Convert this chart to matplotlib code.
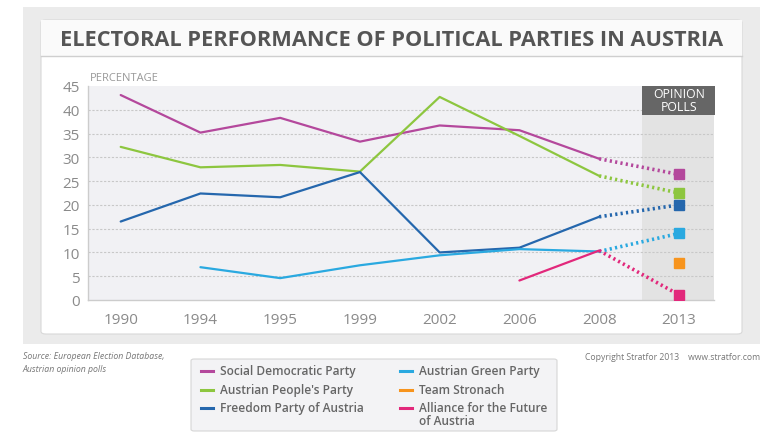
import numpy as np
import matplotlib
matplotlib.use('Agg')
import matplotlib.pyplot as plt
from matplotlib.patches import FancyBboxPatch, Rectangle
from matplotlib.lines import Line2D

plt.rcParams['font.family'] = ['Open Sans', 'DejaVu Sans']

# Data
years = ['1990', '1994', '1995', '1999', '2002', '2006', '2008', '2013']
nan = np.nan
spo = [43.1, 35.2, 38.3, 33.3, 36.7, 35.7, 29.7, 26.4]
ovp = [32.2, 27.9, 28.4, 27.0, 42.7, 34.5, 26.1, 22.5]
fpo = [16.5, 22.4, 21.6, 26.9, 10.0, 11.0, 17.5, 20.0]
greens = [nan, 6.9, 4.6, 7.3, 9.4, 10.7, 10.2, 14.0]
stronach = [nan, nan, nan, nan, nan, nan, nan, 7.8]
bzo = [nan, nan, nan, nan, nan, 4.1, 10.4, 1.1]

parties = ['Social Democratic Party', "Austrian People's Party", 'Freedom Party of Austria',
           'Austrian Green Party', 'Team Stronach', 'Alliance for the Future\nof Austria']
series = [spo, ovp, fpo, greens, stronach, bzo]
colors = ['#b4489c', '#8dc63f', '#2567ad', '#2aa9e0', '#f7941d', '#e2287b']

fig = plt.figure(figsize=(7.84, 4.39), dpi=100)
W, H = 784, 439

def fx(px):
    return px / W

def fy(py):
    return 1 - py / H

# outer grey panel and white card
fig.patches.append(Rectangle((fx(23), fy(345)), fx(737), 337 / H, transform=fig.transFigure,
                             facecolor='#ebebeb', edgecolor='none', zorder=0))
fig.patches.append(FancyBboxPatch((fx(41), fy(335)), fx(701), 314 / H,
                                  boxstyle='round,pad=0,rounding_size=0.006', transform=fig.transFigure,
                                  facecolor='white', edgecolor='#d8d8d8', lw=0.8, zorder=1))
fig.patches.append(Rectangle((fx(41), fy(57)), fx(701), 36 / H, transform=fig.transFigure,
                             facecolor='#fafafa', edgecolor='none', zorder=1))
fig.lines.append(Line2D([fx(41), fx(742)], [fy(57), fy(57)], transform=fig.transFigure,
                        color='#cfcfcf', lw=1, zorder=2))
fig.text(fx(392), fy(40), 'ELECTORAL PERFORMANCE OF POLITICAL PARTIES IN AUSTRIA',
         ha='center', va='center', fontsize=15.7, fontweight='bold', color='#555555', zorder=3)

ax = fig.add_axes([fx(88), fy(301), fx(626), 214 / H])
ax.set_facecolor('#f1f1f4')
ax.set_zorder(2)
x = np.arange(len(years))

# opinion poll band
ax.axvspan(6.54, 7.45, color='#e3e3e3', zorder=0, lw=0)

for v, c in zip(series, colors):
    v = np.array(v, dtype=float)
    ax.plot(x[:7], v[:7], color=c, lw=1.6, zorder=3, solid_capstyle='round')
    if not np.isnan(v[6]):
        ax.plot(x[6:], v[6:], color=c, lw=2.6, ls=(0, (0.6, 0.9)), zorder=3)
    ax.plot(x[7], v[7], marker='s', ms=6.5, color=c, ls='none', zorder=4)

ax.set_xlim(-0.41, 7.44)
ax.set_ylim(0, 45)
ax.set_yticks(range(0, 50, 5))
ax.set_xticks(x)
ax.set_xticklabels(years)
for yv in range(5, 45, 5):
    ax.axhline(yv, color='#c8c8c8', lw=0.8, ls=(0, (2, 1.5)), zorder=1)
ax.tick_params(length=0, labelsize=11, colors='#8a8a8a', pad=6)
ax.tick_params(axis='x', pad=9)
for s in ['top', 'right']:
    ax.spines[s].set_visible(False)
for s in ['left', 'bottom']:
    ax.spines[s].set_color('#cccccc')
    ax.spines[s].set_linewidth(1)

# opinion polls header
ax.add_patch(Rectangle((6.54, 39.0), 0.91, 6.0, facecolor='#666666', edgecolor='none',
                       zorder=5, clip_on=False))
ax.text(7.0, 42.0, 'OPINION\nPOLLS', ha='center', va='center', color='white', fontsize=8.8,
        linespacing=1.0, zorder=6)

fig.text(fx(90), fy(79), 'PERCENTAGE', ha='left', va='center', fontsize=8, color='#999999')

# footer
fig.text(fx(23), fy(352), 'Source: European Election Database,\nAustrian opinion polls', ha='left',
         va='top', fontsize=6.3, style='italic', color='#777777', linespacing=1.55)
fig.text(fx(760), fy(358), 'Copyright Stratfor 2013    www.stratfor.com', ha='right', va='center',
         fontsize=6.2, color='#777777')

# legend box
fig.patches.append(FancyBboxPatch((fx(191), fy(432)), fx(366), 72 / H,
                                  boxstyle='round,pad=0,rounding_size=0.004', transform=fig.transFigure,
                                  facecolor='#f3f3f5', edgecolor='#d6d6d6', lw=0.8, zorder=1))
lx = [fx(201), fx(400)]
ly = [fy(372), fy(391), fy(409)]
for i, (name, c) in enumerate(zip(parties, colors)):
    col, row = divmod(i, 3)
    fig.lines.append(Line2D([lx[col], lx[col] + fx(12)], [ly[row], ly[row]], transform=fig.transFigure,
                            color=c, lw=2.2, zorder=3))
    if '\n' in name:
        fig.text(lx[col] + fx(19), ly[row] + 7 / H, name, ha='left', va='top', fontweight='semibold',
                 fontsize=8.6, color='#666666', linespacing=1.0, zorder=3)
    else:
        fig.text(lx[col] + fx(19), ly[row], name, ha='left', va='center', fontweight='semibold',
                 fontsize=8.6, color='#666666', zorder=3)

fig.savefig('out.png', dpi=100, facecolor='white')
